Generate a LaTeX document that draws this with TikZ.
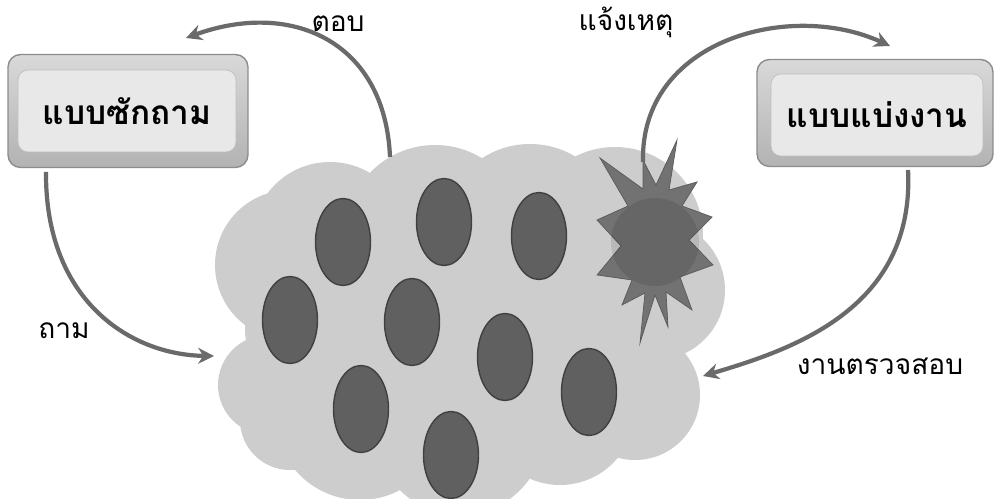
\documentclass[tikz,border=0pt]{standalone}
\usepackage{fontspec}
\newfontfamily\thaifont[Script=Thai]{Loma}
\usetikzlibrary{arrows.meta,shapes.geometric}
\definecolor{cloudGray}{HTML}{CDCDCD}
\definecolor{blobGray}{HTML}{606060}
\definecolor{blobEdge}{HTML}{404040}
\definecolor{starGray}{HTML}{727272}
\definecolor{arrowGray}{HTML}{6A6A6A}
\definecolor{boxEdge}{HTML}{8C8C8C}
\definecolor{boxPale}{HTML}{E8E8E8}

\begin{document}
\begin{tikzpicture}[x=0.02cm,y=-0.02cm,
  blob/.style={ellipse,fill=blobGray,draw=blobEdge,line width=0.8pt,minimum width=1.1cm,minimum height=1.74cm,inner sep=0pt},
  shell/.style={draw=boxEdge,rounded corners=2.5mm,top color=gray!30,bottom color=gray!60,line width=0.8pt,inner sep=0pt},
  face/.style={draw=gray!50,rounded corners=2mm,fill=boxPale,inner sep=0pt,font=\thaifont\fontsize{19}{22}\selectfont\bfseries},
  flow/.style={draw=arrowGray,line width=2.4pt,-{Stealth[length=9pt,width=9pt]}},
  tag/.style={font=\thaifont\fontsize{16}{19}\selectfont}
]
  \fill[white] (0,0) rectangle (1000,499);
  \useasboundingbox (0,0) rectangle (1000,499);

  % cloud
  \fill[cloudGray] (290,265) circle (75) (268,385) circle (50) (330,240) circle (78)
    (435,235) circle (90) (530,232) circle (88) (615,235) circle (88) (655,290) circle (70)
    (635,395) circle (65) (600,335) circle (60) (560,410) circle (75) (460,430) circle (85)
    (360,415) circle (85) (290,420) circle (50) (300,330) circle (55) (460,320) circle (140);

  % people in the cloud
  \foreach \name/\pos in {e1/{(343,242)},e2/{(444,222)},e3/{(539,236)},e4/{(290,320)},e5/{(412,322)},
                          e6/{(505,357)},e7/{(589,392)},e8/{(361,409)},e9/{(451,455)}}
    \node[blob] (\name) at \pos {};

  % alarm star
  \fill[starGray,draw=gray!70!black,line width=0.4pt] (600,158) -- (643,189) -- (643,160) -- (656,185) -- (677,140)
    -- (669,190) -- (697,182) -- (682,206) -- (712,217) -- (689,240) -- (713,265) -- (680,277)
    -- (692,310) -- (666,292) -- (668,327) -- (655,295) -- (640,343) -- (645,293) -- (622,305)
    -- (632,280) -- (597,275) -- (621,246) -- (597,220) -- (628,206) -- cycle;
  \fill[black,opacity=0.1] (655,242) circle (44);

  % boxes
  \node[shell,minimum width=4.8cm,minimum height=2.26cm] (qbox) at (128,111) {};
  \node[face,minimum width=4.36cm,minimum height=1.64cm] (qface) at (127,111) {แบบซักถาม};
  \node[shell,minimum width=4.72cm,minimum height=2.14cm] (tbox) at (875,113) {};
  \node[face,minimum width=4.24cm,minimum height=1.64cm] (tface) at (877,115) {แบบแบ่งงาน};

  % labels
  \node[tag] (reply) at (338,24) {ตอบ};
  \node[tag] (notice) at (626,22) {แจ้งเหตุ};
  \node[tag] (ask) at (64,331) {ถาม};
  \node[tag] (check) at (880,366) {งานตรวจสอบ};

  % arrow ends
  \coordinate (cloudTop) at (390,157);
  \coordinate (replyTip) at (186,38);
  \coordinate (starTop) at (643,162);
  \coordinate (noticeTip) at (890,46);
  \coordinate (askFrom) at (46,172);
  \coordinate (askTip) at (214,356);
  \coordinate (checkFrom) at (908,170);
  \coordinate (checkTip) at (703,376);

  \draw[flow] (cloudTop) .. controls (385,40) and (290,0) .. (replyTip);
  \draw[flow] (starTop) .. controls (640,40) and (790,0) .. (noticeTip);
  \draw[flow] (askFrom) .. controls (45,300) and (130,355) .. (askTip);
  \draw[flow] (checkFrom) .. controls (915,310) and (790,350) .. (checkTip);
\end{tikzpicture}
\end{document}
